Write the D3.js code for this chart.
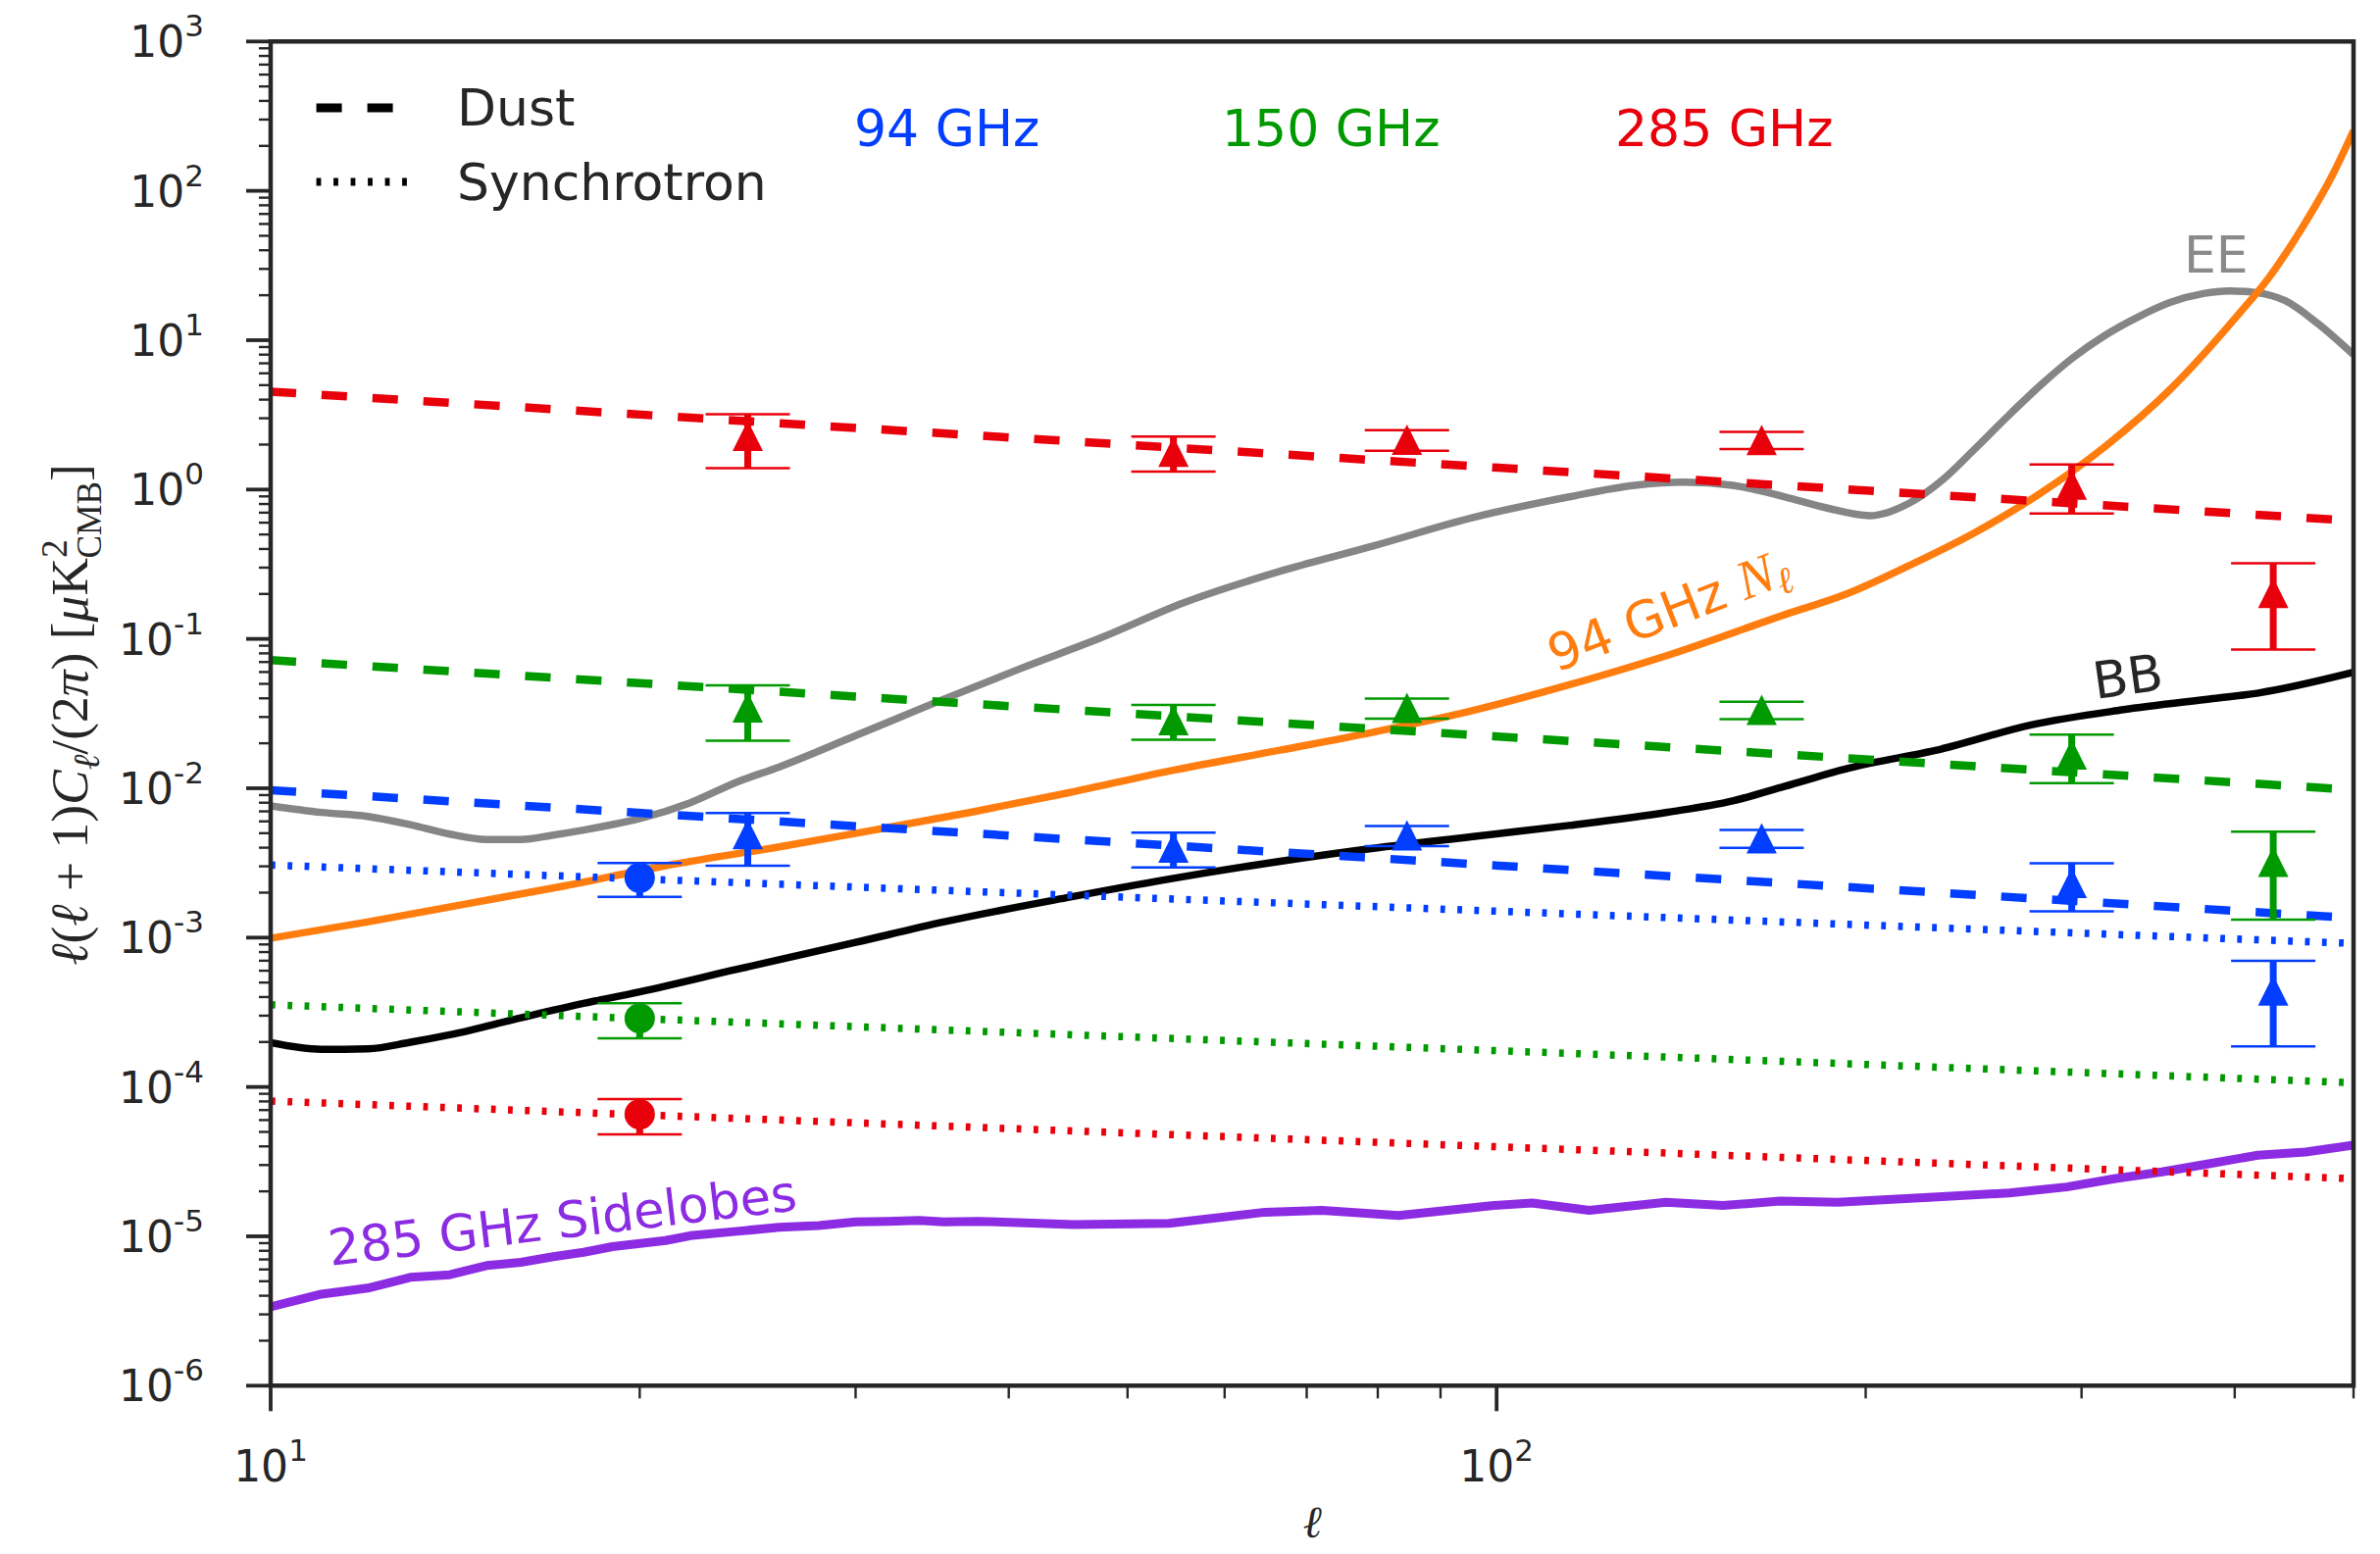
<!DOCTYPE html>
<html>
<head>
<meta charset="utf-8">
<script src="https://cdn.jsdelivr.net/npm/d3@7"></script>
<style>
  html, body { margin: 0; padding: 0; background: #ffffff; }
  svg { display: block; }
</style>
</head>
<body>
<svg id="chart" width="2427" height="1585"></svg>
<script>
// ---------------------------------------------------------------
// Foreground power spectra, D_ell = ell(ell+1)C_ell/(2 pi) [uK^2_CMB]
// ---------------------------------------------------------------

// Multipole bins of the measured foreground amplitudes
const binEll = [24.5, 54.5, 84.5, 164.5, 294.5, 430];

// Dust amplitudes per band (triangles) and their 1-sigma errors
const dust94Pts  = [0.00493, 0.0040, 0.00484, 0.00462, 0.00232, 0.000443];
const dust94Err  = [0.0019, 0.00105, 0.00075, 0.00063, 0.00082, 0.000256];
const dust150Pts = [0.0348, 0.0286, 0.0345, 0.0335, 0.01684, 0.00322];
const dust150Err = [0.014, 0.0075, 0.0053, 0.0045, 0.006, 0.0019];
const dust285Pts = [2.29, 1.79, 2.156, 2.15, 1.08, 0.203];
const dust285Err = [0.9, 0.47, 0.34, 0.285, 0.39, 0.118];

// Synchrotron amplitudes at the pivot multipole (circles)
const syncEll     = [20];
const sync94Pts   = [0.002515];
const sync94Err   = [0.00064];
const sync150Pts  = [2.88e-4];
const sync150Err  = [7.6e-5];
const sync285Pts  = [6.56e-5];
const sync285Err  = [1.74e-5];

// Power-law foreground models, evaluated at the ends of the ell range
const modelEll     = [10, 500];
const dust94Model  = [0.0097, 0.00135];
const dust150Model = [0.0721, 0.00976];
const dust285Model = [4.52, 0.618];
const sync94Model  = [0.00306, 0.000914];
const sync150Model = [0.000355, 0.0001067];
const sync285Model = [8.05e-5, 2.43e-5];

// CMB EE spectrum
const eeEll = [10, 11, 12, 13, 14, 15, 16, 17, 18, 19, 20, 22, 24, 26, 30, 35, 40.9, 47.6, 55.5, 67.2,
               79.3, 95.3, 114.6, 129.6, 142.1, 155.8, 171.9, 185.8, 201.5, 217, 230.7, 245.3, 260.9,
               277.5, 295, 313.8, 333.6, 354.6, 377.2, 396.1, 416.1, 439.8, 467.6, 500];
const eeVal = [0.00763, 0.00689, 0.00648, 0.0057, 0.00493, 0.00454, 0.00454, 0.00486, 0.00525, 0.00571,
               0.00626, 0.00801, 0.0110, 0.0139, 0.0225, 0.038, 0.0633, 0.102, 0.174, 0.290,
               0.419, 0.644, 0.893, 1.066, 1.12, 1.066, 0.893, 0.754, 0.668, 0.81, 1.149, 1.857, 3.07,
               4.96, 7.60, 10.82, 14.29, 17.93, 20.53, 21.36, 20.85, 18.37, 12.91, 7.99];

// CMB BB spectrum
const bbEll = [10, 11, 12, 13, 14, 16, 18, 20, 24, 30, 35.45, 44.8, 53.9, 66.6, 79.3, 95.3, 114.6,
               137.8, 155.8, 171.9, 193.9, 230, 272.9, 323.7, 383.9, 418.2, 500];
const bbVal = [1.977e-4, 1.786e-4, 1.80e-4, 1.993e-4, 2.235e-4, 2.904e-4, 3.625e-4, 4.334e-4, 6.13e-4,
               9.29e-4, 0.001276, 0.001862, 0.002455, 0.003243, 0.003964, 0.004732, 0.005637,
               0.006902, 0.00823, 0.01032, 0.01365, 0.01822, 0.02655, 0.03346, 0.03982, 0.04341, 0.0597];

// 94 GHz noise spectrum N_ell
const noiseEll = [10, 12.02, 14.45, 17.38, 20.89, 26.06, 30.98, 37.25, 44.79, 53.85, 66.56, 79.29, 95.33,
                  114.6, 137.8, 171.9, 192, 217, 245.3, 277.5, 313.8, 354.6, 401.1, 426.4, 453.5, 482.2, 500];
const noiseVal = [0.00099, 0.001276, 0.001683, 0.002222, 0.003006, 0.004068, 0.005231, 0.006902, 0.009341,
                  0.01295, 0.01798, 0.02371, 0.0329, 0.04929, 0.07755, 0.1455, 0.1969, 0.3098, 0.5133,
                  0.9399, 1.95, 4.71, 14.29, 26.15, 55.7, 134.5, 252.8];

// 285 GHz sidelobe pickup
const sideEll = [10, 11, 12, 13, 14, 15, 16, 17, 18, 19, 21, 22, 24, 26, 28, 30, 31.9, 33.8, 35.4, 37.8,
                 45.2, 54.05, 64.7, 72.0, 83.2, 99.5, 106.9, 119, 137.4, 153, 170.4, 189.8, 227, 262,
                 291.8, 319, 349, 382, 417.8, 457, 500];
const sideVal = [3.37e-6, 4.10e-6, 4.50e-6, 5.31e-6, 5.53e-6, 6.37e-6, 6.70e-6, 7.30e-6, 7.82e-6, 8.53e-6,
                 9.37e-6, 1.01e-5, 1.08e-5, 1.15e-5, 1.18e-5, 1.25e-5, 1.26e-5, 1.28e-5, 1.25e-5, 1.26e-5,
                 1.20e-5, 1.22e-5, 1.45e-5, 1.49e-5, 1.38e-5, 1.61e-5, 1.67e-5, 1.49e-5, 1.69e-5, 1.61e-5,
                 1.72e-5, 1.69e-5, 1.83e-5, 1.95e-5, 2.14e-5, 2.43e-5, 2.70e-5, 3.07e-5, 3.49e-5, 3.67e-5, 4.08e-5];

// Axis ticks
const xMajorTicks = [10, 100];
const xMinorTicks = [20, 30, 40, 50, 60, 70, 80, 90, 200, 300, 400, 500];
const yExponents  = [-6, -5, -4, -3, -2, -1, 0, 1, 2, 3];

// Text
const bandLabels = ["94 GHz", "150 GHz", "285 GHz"];
const legendLabels = ["Dust", "Synchrotron"];

// ---------------------------------------------------------------
const COL = {
  b94: "#023eff", b150: "#009a00", b285: "#e8000b",
  ee: "#858585", bb: "#000000", noise: "#ff7d0e", side: "#8b2be2", ink: "#262626"
};
const SANS = "'DejaVu Sans', sans-serif";
const SERIF = "'Liberation Serif', 'DejaVu Serif', serif";

const W = 2427, H = 1585;
const plotL = 276, plotR = 2400, plotT = 42.3, plotB = 1413.3;

const x = d3.scaleLog().domain([10, 500]).range([plotL, plotR]);
const y = d3.scaleLog().domain([1e-6, 1e3]).range([plotB, plotT]);

const svg = d3.select("#chart");
svg.append("rect").attr("width", W).attr("height", H).attr("fill", "#ffffff");

svg.append("defs").append("clipPath").attr("id", "plotClip")
  .append("rect").attr("x", plotL).attr("y", plotT)
  .attr("width", plotR - plotL).attr("height", plotB - plotT);

const plot = svg.append("g").attr("clip-path", "url(#plotClip)");
const zip = (a, b) => a.map((v, i) => [v, b[i]]);
const line = (curve) => d3.line().x(d => x(d[0])).y(d => y(d[1])).curve(curve);

// --- theory / noise curves
function curve(ell, val, color, width, c) {
  plot.append("path")
    .attr("d", line(c)(zip(ell, val)))
    .attr("fill", "none").attr("stroke", color).attr("stroke-width", width)
    .attr("stroke-linejoin", "round").attr("stroke-linecap", "butt");
}
curve(sideEll, sideVal, COL.side, 9, d3.curveLinear);
curve(bbEll, bbVal, COL.bb, 7.5, d3.curveMonotoneX);
curve(eeEll, eeVal, COL.ee, 7.5, d3.curveMonotoneX);
curve(noiseEll, noiseVal, COL.noise, 7.5, d3.curveMonotoneX);

// --- foreground models
function model(val, color, dash, width) {
  plot.append("path")
    .attr("d", line(d3.curveLinear)(zip(modelEll, val)))
    .attr("fill", "none").attr("stroke", color).attr("stroke-width", width)
    .attr("stroke-dasharray", dash).attr("stroke-linecap", "butt");
}
const DASH = "26,26", DOT = "4.8,12.5";
model(dust285Model, COL.b285, DASH, 8.5);
model(dust150Model, COL.b150, DASH, 8.5);
model(dust94Model,  COL.b94,  DASH, 8.5);
model(sync94Model,  COL.b94,  DOT, 7.5);
model(sync150Model, COL.b150, DOT, 7.5);
model(sync285Model, COL.b285, DOT, 7.5);

// --- measured amplitudes with error bars
const measurements = [
  { ell: syncEll, val: sync94Pts,  err: sync94Err,  color: COL.b94,  shape: "circle" },
  { ell: syncEll, val: sync150Pts, err: sync150Err, color: COL.b150, shape: "circle" },
  { ell: syncEll, val: sync285Pts, err: sync285Err, color: COL.b285, shape: "circle" },
  { ell: binEll,  val: dust94Pts,  err: dust94Err,  color: COL.b94,  shape: "tri" },
  { ell: binEll,  val: dust150Pts, err: dust150Err, color: COL.b150, shape: "tri" },
  { ell: binEll,  val: dust285Pts, err: dust285Err, color: COL.b285, shape: "tri" }
];
const capHalf = 43, mk = 15.5;
measurements.forEach(m => {
  const g = plot.append("g");
  m.ell.forEach((l, i) => {
    const cx = x(l), v = m.val[i], e = m.err[i];
    const yHi = y(v + e), yLo = y(v - e);
    g.append("line").attr("x1", cx).attr("x2", cx).attr("y1", yHi).attr("y2", yLo)
      .attr("stroke", m.color).attr("stroke-width", 7);
    [yHi, yLo].forEach(cy => g.append("line")
      .attr("x1", cx - capHalf).attr("x2", cx + capHalf).attr("y1", cy).attr("y2", cy)
      .attr("stroke", m.color).attr("stroke-width", 2.5));
    const cy = y(v);
    if (m.shape === "circle") {
      g.append("circle").attr("cx", cx).attr("cy", cy).attr("r", mk).attr("fill", m.color);
    } else {
      g.append("path")
        .attr("d", `M${cx},${cy - mk}L${cx + mk},${cy + mk}L${cx - mk},${cy + mk}Z`)
        .attr("fill", m.color);
    }
  });
});

// --- axes
const axes = svg.append("g").attr("stroke", COL.ink);
const yMinor = [];
yExponents.slice(0, -1).forEach(e => { for (let k = 2; k < 10; k++) yMinor.push(k * Math.pow(10, e)); });
const yMajor = yExponents.map(e => Math.pow(10, e));

yMajor.forEach(v => axes.append("line").attr("x1", plotL - 25).attr("x2", plotL)
  .attr("y1", y(v)).attr("y2", y(v)).attr("stroke-width", 3.8));
yMinor.forEach(v => axes.append("line").attr("x1", plotL - 12).attr("x2", plotL)
  .attr("y1", y(v)).attr("y2", y(v)).attr("stroke-width", 2.4));
xMajorTicks.forEach(v => axes.append("line").attr("x1", x(v)).attr("x2", x(v))
  .attr("y1", plotB).attr("y2", plotB + 26).attr("stroke-width", 3.8));
xMinorTicks.forEach(v => axes.append("line").attr("x1", x(v)).attr("x2", x(v))
  .attr("y1", plotB).attr("y2", plotB + 13).attr("stroke-width", 2.4));

// spines
svg.append("rect").attr("x", plotL).attr("y", plotT)
  .attr("width", plotR - plotL).attr("height", plotB - plotT)
  .attr("fill", "none").attr("stroke", COL.ink).attr("stroke-width", 4.5);

// tick labels (10^n)
function powLabel(px, py, anchor, exp) {
  const t = svg.append("text").attr("x", px).attr("y", py)
    .attr("text-anchor", anchor).attr("font-family", SANS).attr("fill", COL.ink)
    .attr("font-size", 44);
  t.append("tspan").text("10");
  t.append("tspan").attr("font-size", 31).attr("dy", -21).text(String(exp));
}
yExponents.forEach(e => powLabel(208, y(Math.pow(10, e)) + 16, "end", e));
xMajorTicks.forEach(v => powLabel(x(v), 1511, "middle", Math.round(Math.log10(v))));

// axis titles
svg.append("text").attr("x", (plotL + plotR) / 2).attr("y", 1568)
  .attr("text-anchor", "middle").attr("font-family", SERIF).attr("font-style", "italic")
  .attr("font-size", 46).attr("fill", COL.ink).text("ℓ");

const yt = svg.append("text").attr("text-anchor", "middle")
  .attr("font-family", SERIF).attr("font-size", 50).attr("fill", COL.ink);
const ySegs = [
  ["ℓ", true, 50, 0, 0], ["(", false, 50, 0, 0], ["ℓ", true, 50, 0, 0], [" + 1)", false, 50, 0, 0],
  ["C", true, 50, 0, 0], ["ℓ", true, 35, 0, 11], ["/(2", false, 50, 0, -11], ["π", true, 50, 0, 0],
  [")  [", false, 50, 0, 0], ["μ", true, 50, 0, 0], ["K", false, 50, 0, 0],
  ["2", false, 35, 0, -20], ["CMB", false, 33, -18, 33], ["]", false, 50, 0, -13]
];
ySegs.forEach(([s, it, fs, dx, dy]) => yt.append("tspan")
  .attr("font-style", it ? "italic" : "normal").attr("font-size", fs)
  .attr("dx", dx).attr("dy", dy).text(s));
const yLen = yt.node().getComputedTextLength();
yt.attr("transform", `translate(89,729) rotate(-90) scale(${531 / yLen})`);

// --- legend
const lg = svg.append("g");
lg.append("line").attr("x1", 322.6).attr("x2", 426.6).attr("y1", 110).attr("y2", 110)
  .attr("stroke", "#000").attr("stroke-width", 9).attr("stroke-dasharray", DASH);
lg.append("line").attr("x1", 322.6).attr("x2", 426.6).attr("y1", 185.5).attr("y2", 185.5)
  .attr("stroke", "#000").attr("stroke-width", 8).attr("stroke-dasharray", "4.8,12.7");
[[legendLabels[0], 128.3], [legendLabels[1], 204]].forEach(([s, by]) =>
  lg.append("text").attr("x", 466).attr("y", by).attr("font-family", SANS)
    .attr("font-size", 52).attr("fill", COL.ink).text(s));

// --- band labels
[[bandLabels[0], 871, COL.b94], [bandLabels[1], 1246, COL.b150], [bandLabels[2], 1647, COL.b285]]
  .forEach(([s, px, c]) => svg.append("text").attr("x", px).attr("y", 149)
    .attr("font-family", SANS).attr("font-size", 52).attr("fill", c).text(s));

// --- curve annotations
svg.append("text").attr("x", 2227).attr("y", 278.3).attr("font-family", SANS)
  .attr("font-size", 52).attr("fill", "#8a8a8a").text("EE");
svg.append("text").attr("transform", "translate(2137,713) rotate(-8)")
  .attr("font-family", SANS).attr("font-size", 52).attr("fill", COL.ink).text("BB");
svg.append("text").attr("transform", "translate(337,1291) rotate(-6.8)")
  .attr("font-family", SANS).attr("font-size", 51).attr("fill", COL.side).text("285 GHz Sidelobes");
const nl = svg.append("text").attr("transform", "translate(1587,686) rotate(-21)")
  .attr("font-family", SANS).attr("font-size", 52).attr("fill", COL.noise);
nl.append("tspan").text("94 GHz ");
nl.append("tspan").attr("font-family", SERIF).attr("font-style", "italic").attr("font-size", 56).text("N");
nl.append("tspan").attr("font-family", SERIF).attr("font-style", "italic").attr("font-size", 38)
  .attr("dy", 9).text("ℓ");
</script>
</body>
</html>
